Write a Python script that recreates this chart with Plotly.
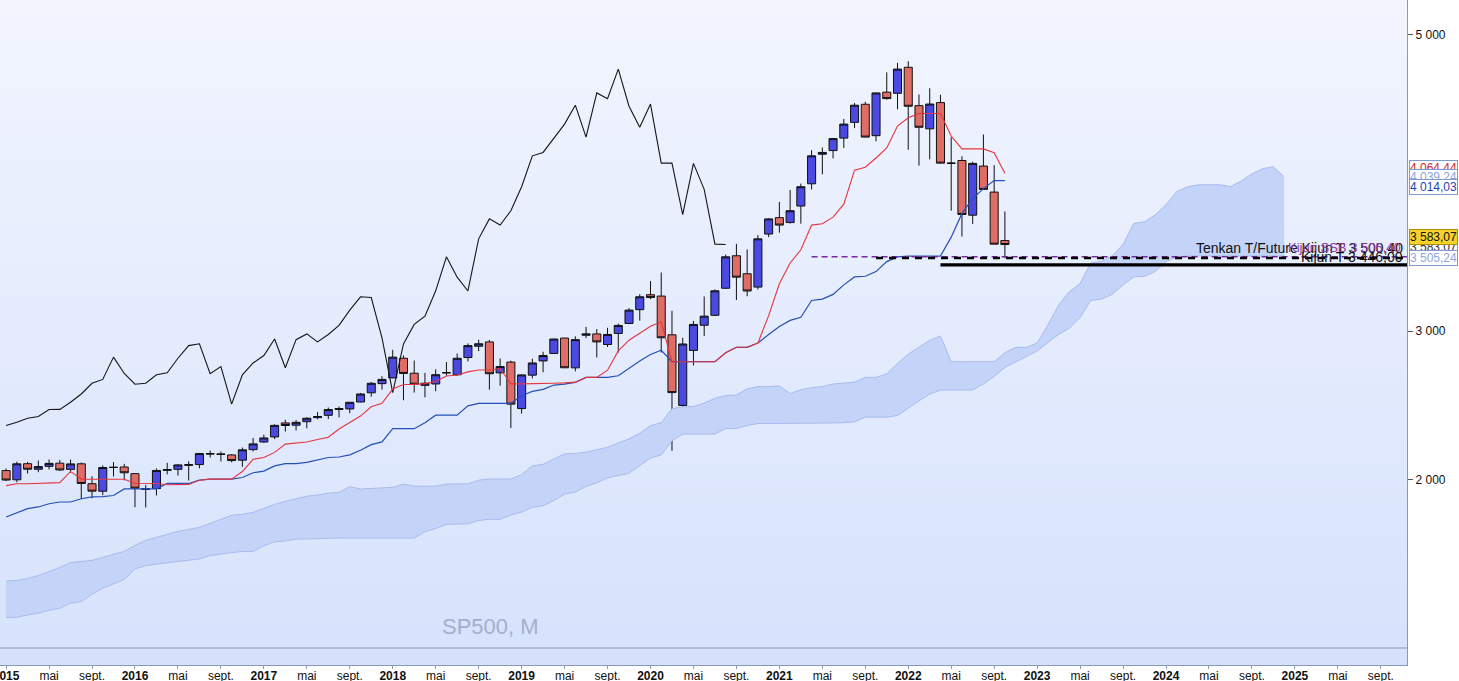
import plotly.graph_objects as go

# ---------------- data (monthly S&P 500, Jan 2015 .. Oct 2022) ----------------
months = [f"{y}-{m:02d}" for y in range(2015, 2023) for m in range(1, 13)][:94]

opens = [2058.90, 1996.67, 2105.23, 2067.63, 2087.38, 2108.64, 2067.00, 2104.49, 1970.09, 1919.65, 2080.76, 2082.93,
         2038.20, 1936.94, 1937.09, 2060.23, 2067.17, 2093.94, 2099.34, 2173.15, 2171.33, 2164.33, 2129.02, 2200.17,
         2251.57, 2285.59, 2380.13, 2364.82, 2388.50, 2415.65, 2431.39, 2477.10, 2474.42, 2521.20, 2583.21, 2645.10,
         2683.73, 2816.45, 2715.22, 2633.45, 2642.96, 2718.70, 2704.95, 2821.17, 2896.96, 2926.29, 2717.58, 2790.50,
         2476.96, 2702.32, 2798.22, 2848.63, 2952.33, 2751.53, 2971.41, 2980.32, 2909.01, 2983.69, 3050.72, 3143.85,
         3244.67, 3235.66, 2974.28, 2498.08, 2869.09, 3038.78, 3105.92, 3288.26, 3507.44, 3385.87, 3296.20, 3653.78,
         3764.61, 3731.17, 3842.51, 3992.78, 4191.98, 4216.52, 4300.73, 4406.86, 4528.80, 4317.16, 4610.62, 4602.82,
         4778.14, 4519.57, 4363.14, 4540.32, 4130.61, 4149.78, 3781.00, 4112.38, 3936.73, 3609.78]
highs = [2072, 2119, 2117, 2126, 2134, 2130, 2133, 2113, 2021, 2094, 2116, 2104,
         2038, 1962, 2073, 2111, 2103, 2121, 2178, 2193, 2187, 2169, 2214, 2278,
         2301, 2371, 2401, 2399, 2418, 2453, 2484, 2491, 2519, 2582, 2657, 2695,
         2873, 2835, 2801, 2717, 2742, 2791, 2848, 2916, 2941, 2940, 2815, 2800,
         2708, 2813, 2860, 2949, 2954, 2964, 3028, 3013, 3022, 3050, 3154, 3248,
         3337, 3394, 3136, 2955, 3068, 3233, 3280, 3515, 3588, 3550, 3646, 3760,
         3870, 3951, 3994, 4219, 4238, 4302, 4430, 4537, 4546, 4609, 4744, 4808,
         4819, 4595, 4637, 4593, 4307, 4178, 4141, 4325, 4119, 3806]
lows = [1988, 1980, 2039, 2048, 2067, 2056, 2044, 1867, 1872, 1893, 2019, 1993,
        1812, 1810, 1891, 2033, 2025, 1992, 2074, 2147, 2120, 2114, 2084, 2187,
        2245, 2271, 2322, 2329, 2344, 2405, 2407, 2417, 2446, 2520, 2557, 2605,
        2682, 2533, 2585, 2553, 2594, 2698, 2698, 2795, 2864, 2604, 2631, 2346,
        2443, 2681, 2722, 2848, 2751, 2728, 2952, 2822, 2892, 2855, 3051, 3070,
        3214, 2855, 2192, 2447, 2767, 2966, 3101, 3284, 3209, 3234, 3280, 3633,
        3663, 3725, 3724, 3955, 4057, 4164, 4234, 4368, 4306, 4279, 4560, 4495,
        4222, 4115, 4157, 4129, 3811, 3637, 3722, 3955, 3585, 3491]
closes = [1994.99, 2104.50, 2067.89, 2085.51, 2107.39, 2063.11, 2103.84, 1972.18, 1920.03, 2079.36, 2080.41, 2043.94,
          1940.24, 1932.23, 2059.74, 2065.30, 2096.95, 2098.86, 2173.60, 2170.95, 2168.27, 2126.15, 2198.81, 2238.83,
          2278.87, 2363.64, 2362.72, 2384.20, 2411.80, 2423.41, 2470.30, 2471.65, 2519.36, 2575.26, 2647.58, 2673.61,
          2823.81, 2713.83, 2640.87, 2648.05, 2705.27, 2718.37, 2816.29, 2901.52, 2913.98, 2711.74, 2760.17, 2506.85,
          2704.10, 2784.49, 2834.40, 2945.83, 2752.06, 2941.76, 2980.38, 2926.46, 2976.74, 3037.56, 3140.98, 3230.78,
          3225.52, 2954.22, 2584.59, 2912.43, 3044.31, 3100.29, 3271.12, 3500.31, 3363.00, 3269.96, 3621.63, 3756.07,
          3714.24, 3811.15, 3972.89, 4181.17, 4204.11, 4297.50, 4395.26, 4522.68, 4307.54, 4605.38, 4567.00, 4766.18,
          4515.55, 4373.94, 4530.41, 4131.93, 4132.15, 3785.38, 4130.29, 3955.00, 3585.62, 3583.07]

tenkan = [1957.5, 1970, 1970, 1973.5, 1977.5, 1977.5, 2053.5, 2000.5, 2000.5, 2000.5,
          2000.5, 2000.5, 1973, 1971.5, 1971.5, 1963, 1963, 1965.5, 1994, 2001.5,
          2001.5, 2001.5, 2052.5, 2135, 2146.5, 2181.5, 2237.5, 2242.5, 2251, 2268.5,
          2284, 2339, 2382, 2426.5, 2489.5, 2512, 2608.5, 2639, 2640, 2645,
          2659.5, 2696.5, 2703, 2724.5, 2737, 2737, 2747, 2643.5, 2643.5, 2643.5,
          2643.5, 2647.5, 2650, 2655, 2687, 2687, 2735.5, 2865.5, 2938, 2988,
          3032.5, 3061, 2793, 2793, 2793, 2793, 2793, 2853.5, 2890, 2890,
          2919, 3103.5, 3318.5, 3458.5, 3547.5, 3714, 3723.5, 3768, 3855, 4085,
          4104.5, 4166.5, 4234, 4381.5, 4438, 4467, 4467, 4467, 4315, 4228,
          4228, 4228, 4202, 4064.44]
kijun = [1746, 1772.5, 1802, 1813.5, 1835, 1847, 1847, 1869, 1881, 1883.5,
         1890.5, 1935.5, 1935.5, 1935.5, 1935.5, 1972, 1972, 1972, 1994, 2001.5,
         2001.5, 2001.5, 2012, 2044, 2055.5, 2090.5, 2105.5, 2105.5, 2114, 2131.5,
         2147, 2150.5, 2164.5, 2196, 2233.5, 2252.5, 2341.5, 2341.5, 2341.5, 2382,
         2432.5, 2432.5, 2432.5, 2495, 2512.5, 2512.5, 2512.5, 2512.5, 2564, 2593,
         2606, 2635.5, 2641.5, 2654, 2687, 2687, 2687, 2698, 2750, 2797,
         2841.5, 2870, 2793, 2793, 2793, 2793, 2793, 2853.5, 2890, 2890,
         2919, 2976, 3031, 3071.5, 3093, 3205.5, 3215, 3247, 3311, 3364.5,
         3369, 3400.5, 3468, 3500, 3505.5, 3505.5, 3505.5, 3505.5, 3633, 3793,
         3892.5, 3960, 4014, 4014.03]

# leading spans, plotted from Jan 2015 to Dec 2024 (120 months)
span_a = [1314, 1318, 1331, 1351, 1378, 1405, 1439, 1446, 1453, 1473,
          1493, 1514, 1554, 1588, 1608, 1628, 1649, 1662, 1676, 1703,
          1730, 1757, 1764, 1777, 1804, 1831,
          1852, 1871, 1886, 1894, 1906, 1912, 1950, 1935, 1941, 1942,
          1946, 1968, 1954, 1954, 1954, 1968, 1968, 1969, 1994, 2002,
          2002, 2002, 2032, 2090, 2101, 2136, 2172, 2174, 2183, 2200,
          2216, 2245, 2273, 2311, 2362, 2382, 2475, 2490, 2491, 2514,
          2546, 2565, 2568, 2610, 2625, 2625, 2630, 2578, 2604, 2618,
          2625, 2642, 2646, 2655, 2687, 2687, 2711, 2782, 2844, 2893,
          2937, 2966, 2793, 2793, 2793, 2793, 2793, 2854, 2890, 2890,
          2919, 3040, 3175, 3265, 3320, 3460, 3469, 3508, 3583, 3725,
          3737, 3784, 3851, 3941, 3972, 3986, 3986, 3986, 3974, 4011,
          4060, 4094, 4108, 4039.24]
span_b = [1068, 1070, 1085, 1097, 1117, 1130, 1165, 1176, 1225, 1265,
          1295, 1325, 1395, 1418, 1428, 1436, 1445, 1452, 1463, 1485,
          1497, 1506, 1513, 1513, 1552, 1578,
          1584, 1597, 1597, 1600, 1604, 1604, 1604, 1604, 1604, 1604,
          1604, 1604, 1604, 1646, 1668, 1696, 1700, 1700, 1722, 1730,
          1730, 1759, 1779, 1811, 1822, 1857, 1900, 1914, 1952, 1977,
          2010, 2026, 2040, 2093, 2143, 2164, 2260, 2305, 2305, 2305,
          2305, 2342, 2342, 2363, 2376, 2376, 2376, 2376, 2376, 2376,
          2376, 2380, 2382, 2387, 2419, 2419, 2419, 2430, 2482, 2529,
          2574, 2602, 2602, 2602, 2602, 2643, 2693, 2754, 2790, 2831,
          2865, 2922, 2977, 3018, 3091, 3206, 3215, 3247, 3311, 3365,
          3369, 3401, 3468, 3500, 3506, 3506, 3506, 3506, 3506, 3506,
          3506, 3506, 3506, 3505.24]
CHIKOU_SHIFT = 26

# horizontal level lines: value, first month index
level_names = ["Tenkan T/Future", "Kijun SSB", "Kijun T"]
level_values = [3500.40, 3492.0, 3446.00]
level_start = [75, 81, 87]

# axis ticks
tick_years = list(range(2015, 2026))
tick_month_names = ["mai", "sept."]
tick_month_offsets = [4, 8]
y_tick_values = [2000, 3000, 5000]
y_tick_labels = ["2 000", "3 000", "5 000"]

# ---------------- layout constants ----------------
W, H = 1459, 681
PLOT_R, PLOT_B = 52, 16
PLOT_H = H - PLOT_B
X_RANGE = [-0.568, 130.44]
Y_RANGE = [747.8, 5232.0]


def py2paper(py):
    return 1 - py / PLOT_H


x_idx = list(range(len(closes)))
lead_idx = list(range(len(span_a)))
chikou_x = list(range(len(closes) - CHIKOU_SHIFT))
chikou_y = closes[CHIKOU_SHIFT:]

tickvals, ticktext = [], []
for y in tick_years:
    base = 12 * (y - tick_years[0])
    tickvals.append(base)
    ticktext.append(f"<b>{y}</b>")
    for name, off in zip(tick_month_names, tick_month_offsets):
        tickvals.append(base + off)
        ticktext.append(name)

fig = go.Figure()

# background gradient of the plot area
top_c, bot_c = (242, 245, 254), (214, 226, 252)
n = 50
for i in range(n):
    f = (i + 0.5) / n
    c = tuple(round(top_c[k] + (bot_c[k] - top_c[k]) * f) for k in range(3))
    fig.add_shape(type="rect", xref="paper", yref="paper", x0=0, x1=1,
                  y0=max(0, 1 - (i + 1) / n - 0.003), y1=1 - i / n,
                  fillcolor=f"rgb{c}", line_width=0, layer="below")

# cloud
fig.add_trace(go.Scatter(x=lead_idx, y=span_b, mode="lines",
                         line=dict(color="#a9bbee", width=1), hoverinfo="skip"))
fig.add_trace(go.Scatter(x=lead_idx, y=span_a, mode="lines",
                         line=dict(color="#a9bbee", width=1), fill="tonexty",
                         fillcolor="#c4d4f8", hoverinfo="skip"))

# chikou, kijun, tenkan
fig.add_trace(go.Scatter(x=chikou_x, y=chikou_y, mode="lines",
                         line=dict(color="#161616", width=1.1), hoverinfo="skip"))
fig.add_trace(go.Scatter(x=x_idx, y=kijun, mode="lines",
                         line=dict(color="#2450b8", width=1.2), hoverinfo="skip"))
fig.add_trace(go.Scatter(x=x_idx, y=tenkan, mode="lines",
                         line=dict(color="#e8343c", width=1.1), hoverinfo="skip"))

# level lines
level_styles = [dict(color="#7a2aa0", width=1.6, dash="6px,4px"),
                dict(color="#000000", width=2.4, dash="7px,6px"),
                dict(color="#000000", width=3.2)]
for v, s, st in zip(level_values, level_start, level_styles):
    fig.add_trace(go.Scatter(x=[s, X_RANGE[1]], y=[v, v], mode="lines",
                             line=st, hoverinfo="skip"))

# candles
fig.add_trace(go.Candlestick(
    x=x_idx, open=opens, high=highs, low=lows, close=closes,
    increasing=dict(line=dict(color="#101010", width=1), fillcolor="#4a4ae2"),
    decreasing=dict(line=dict(color="#101010", width=1), fillcolor="#e06c66"),
    whiskerwidth=0, hoverinfo="skip"))

# separator line of the lower panel
fig.add_shape(type="line", xref="paper", yref="paper", x0=0, x1=1,
              y0=py2paper(648), y1=py2paper(648), line=dict(color="#8a98b6", width=1.2))

ann = []
ann.append(dict(text="SP500, M", xref="paper", yref="paper", x=490 / 1407, xanchor="center",
                y=py2paper(626), yanchor="middle", showarrow=False,
                font=dict(family="Liberation Sans, Arial", size=22, color="#a6aecb")))
ann.append(dict(text="Tenkan T/Future Kijun T 3 500,40", xref="paper", yref="paper",
                x=1, xshift=-2, xanchor="right", y=py2paper(248), yanchor="middle", showarrow=False,
                font=dict(family="Liberation Sans, Arial", size=14, color="#111111")))
ann.append(dict(text="Kijun SSB 3 505,40", xref="paper", yref="paper",
                x=1, xshift=-4, xanchor="right", y=py2paper(247), yanchor="middle", showarrow=False,
                font=dict(family="Liberation Sans, Arial", size=13, color="#8a3aa8")))
ann.append(dict(text="Kijun T 3 446,00", xref="paper", yref="paper",
                x=1, xshift=-2, xanchor="right", y=py2paper(257), yanchor="middle", showarrow=False,
                font=dict(family="Liberation Sans, Arial", size=14, color="#111111")))

# right-axis value boxes: text, text colour, background, border, pixel y
value_boxes = [
    (f"{tenkan[-1]:,.2f}", "#d02828", "white", "#7f9ad0", 168),
    (f"{span_a[-1]:,.2f}", "#8ea6e0", "white", "#7f9ad0", 177),
    (f"{kijun[-1]:,.2f}", "#1f3fb8", "white", "#7f9ad0", 187),
    (f"{closes[-1]:,.2f}", "#333333", "white", "#7f9ad0", 247),
    (f"{closes[-1]:,.2f}", "#111111", "#f6d22a", "#b09000", 237),
    (f"{span_b[-1]:,.2f}", "#8ea6e0", "white", "#7f9ad0", 258),
]
for txt, col, bg, bd, py in value_boxes:
    txt = txt.replace(",", " ").replace(".", ",")
    ann.append(dict(text=txt, xref="paper", yref="paper", x=1, xshift=2, xanchor="left",
                    y=py2paper(py), yanchor="middle", showarrow=False, bgcolor=bg,
                    bordercolor=bd, borderwidth=1, borderpad=0,
                    font=dict(family="Liberation Sans, Arial", size=12, color=col)))

fig.update_layout(
    width=W, height=H, margin=dict(l=0, r=PLOT_R, t=0, b=PLOT_B),
    paper_bgcolor="white", plot_bgcolor="#e4ebfc", showlegend=False,
    boxgap=0.25, boxgroupgap=0, annotations=ann,
    xaxis=dict(range=X_RANGE, tickvals=tickvals, ticktext=ticktext, showgrid=False,
               zeroline=False, showline=True, linecolor="#8a98b6", linewidth=1.2,
               ticks="outside", ticklen=3, tickcolor="#8a98b6", ticklabelstandoff=-4,
               tickfont=dict(family="Liberation Sans Narrow, Liberation Sans, Arial", size=12, color="#111"),
               rangeslider=dict(visible=False), automargin=False, ticklabeloverflow="allow"),
    yaxis=dict(side="right", range=Y_RANGE, tickvals=y_tick_values, ticktext=y_tick_labels,
               showgrid=False, zeroline=False, showline=True, linecolor="#8a98b6", linewidth=1.2,
               ticks="outside", ticklen=5, tickcolor="#555",
               tickfont=dict(family="Liberation Sans, Arial", size=12, color="#111"),
               automargin=False),
)

fig.write_html("out.html", config={"displayModeBar": False},
               post_script="document.body.style.margin='0';document.body.style.overflow='hidden';")
